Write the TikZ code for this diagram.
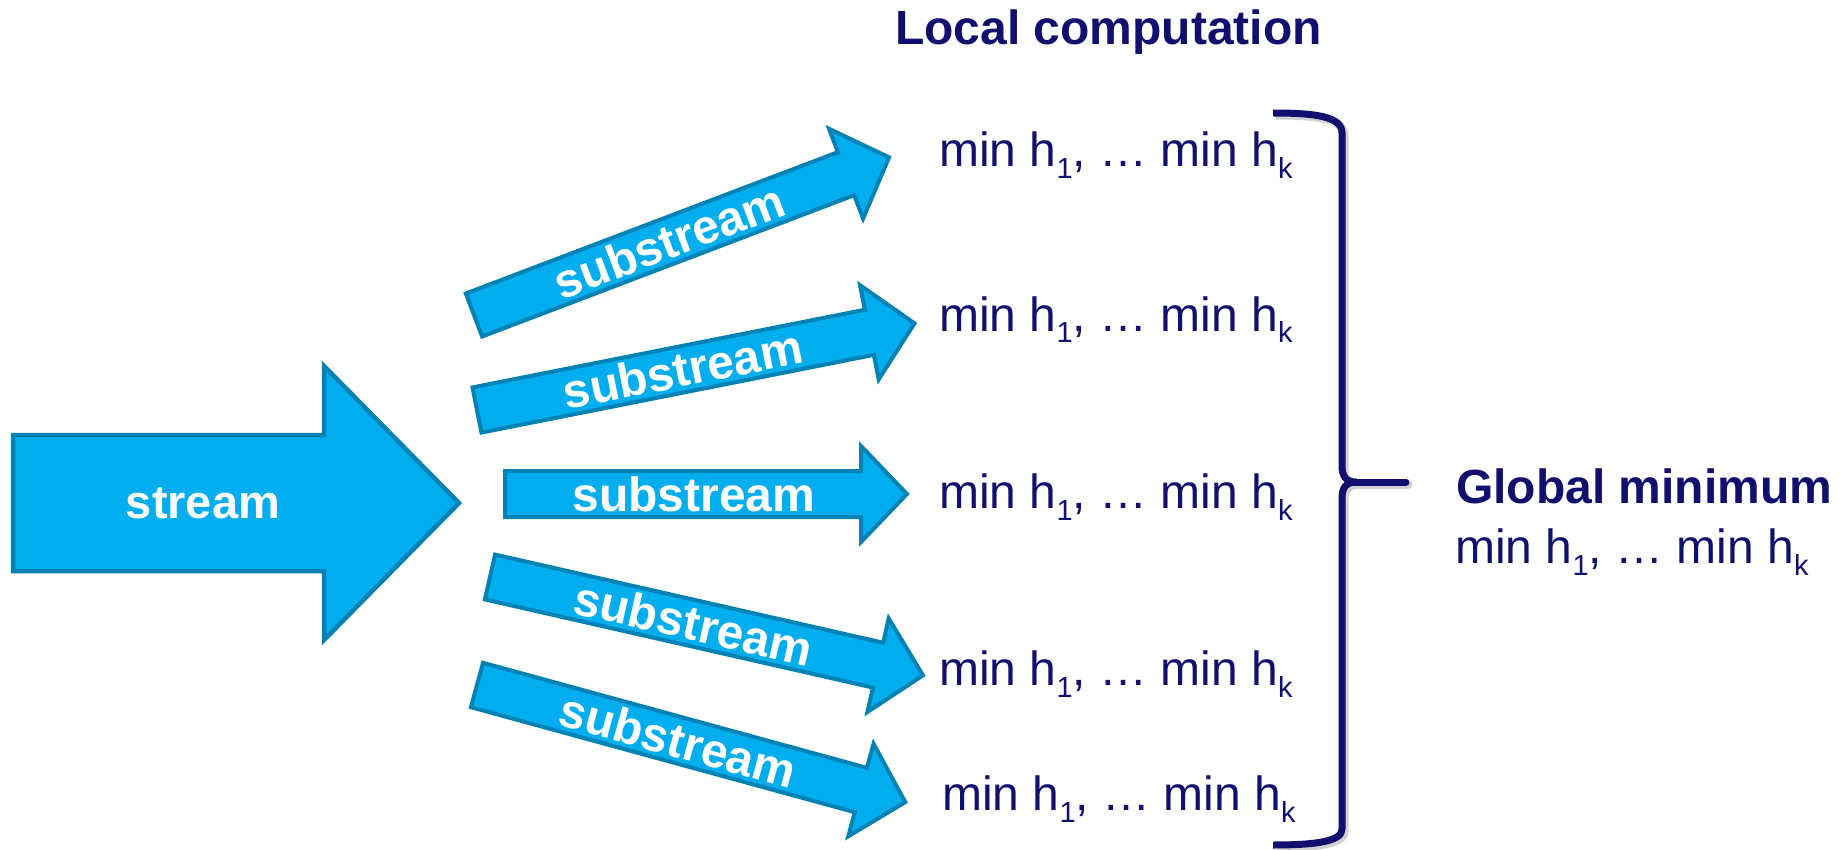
\documentclass[tikz,border=0pt]{standalone}
\usepackage{fontspec}
\setmainfont{Liberation Sans}
\definecolor{arrowfill}{HTML}{00AEEF}
\definecolor{arrowline}{HTML}{0082B5}
\definecolor{navy}{HTML}{12106E}
\newcommand{\hsub}[1]{\raisebox{-12pt}{\fontsize{29}{29}\selectfont #1}}
\newcommand{\minrow}{min h\hsub{1}, … min h\hsub{k}}
\tikzset{
  arrowbox/.style={fill=arrowfill, draw=arrowline, line width=4pt, line join=miter},
  bigtext/.style={text=white, font=\fontsize{47}{56}\selectfont\bfseries, inner sep=0pt},
  subtext/.style={text=white, font=\fontsize{48}{56}\selectfont\bfseries, inner sep=0pt},
  mintext/.style={text=navy, font=\fontsize{48}{56}\selectfont, inner sep=0pt, anchor=base west},
  headtext/.style={text=navy, font=\fontsize{48}{56}\selectfont\bfseries, inner sep=0pt, anchor=base west},
  bracepath/.style={draw=navy, line width=7pt, line join=round},
  braceshadow/.style={draw=black!18, line width=8pt, line join=round},
}
% name, tail x, tail y, angle, length
\newcommand{\subarrow}[5]{%
  \begin{scope}[shift={(#2,#3)}, rotate=#4]
    \draw[arrowbox] (0,-23) -- ({#5-46},-23) -- ({#5-46},-48) -- (#5,0)
      -- ({#5-46},48) -- ({#5-46},23) -- (0,23) -- cycle;
    \node[subtext, transform shape] (#1) at ({0.47*#5},0) {substream};
  \end{scope}}
\begin{document}
\begin{tikzpicture}[x=1pt, y=-1pt]
\useasboundingbox (0,0) rectangle (1845,850);
% big stream arrow
\draw[arrowbox, line width=4.5pt] (13,435) -- (324,435) -- (324,366) -- (459,503)
  -- (324,640) -- (324,571) -- (13,571) -- cycle;
\node[bigtext] (stream) at (203,503) {stream};
% substream arrows
\subarrow{s1}{474}{315}{20.8}{444}
\subarrow{s2}{477}{410}{11.2}{446}
\subarrow{s3}{505}{494}{0}{402}
\subarrow{s4}{490}{577}{-12.8}{444}
\subarrow{s5}{477}{685}{-15.3}{444}
% title
\node[headtext] (title) at (895,45) {Local computation};
% local results
\node[mintext] (m1) at (939,167) {\minrow};
\node[mintext] (m2) at (939,331) {\minrow};
\node[mintext] (m3) at (939,508) {\minrow};
\node[mintext] (m4) at (939,685) {\minrow};
\node[mintext] (m5) at (942,810) {\minrow};
% brace shadow
\begin{scope}[shift={(2.5,2.5)}]
\draw[braceshadow] (1273,113) .. controls (1318,113) and (1342,117) .. (1342,133)
  -- (1342,466) .. controls (1342,476) and (1346,482) .. (1356,482)
  .. controls (1346,482) and (1342,488) .. (1342,498)
  -- (1342,829) .. controls (1342,841) and (1318,845) .. (1273,845);
\draw[braceshadow, line cap=round] (1350,482) -- (1406,482);
\end{scope}
% brace
\draw[bracepath] (1273,113) .. controls (1318,113) and (1342,117) .. (1342,133)
  -- (1342,466) .. controls (1342,476) and (1346,482) .. (1356,482)
  .. controls (1346,482) and (1342,488) .. (1342,498)
  -- (1342,829) .. controls (1342,841) and (1318,845) .. (1273,845);
\draw[bracepath, line cap=round] (1350,482) -- (1406,482);
% global result
\node[headtext] (glob) at (1456,503) {Global minimum};
\node[mintext] (globval) at (1455,563) {\minrow};
\end{tikzpicture}
\end{document}
